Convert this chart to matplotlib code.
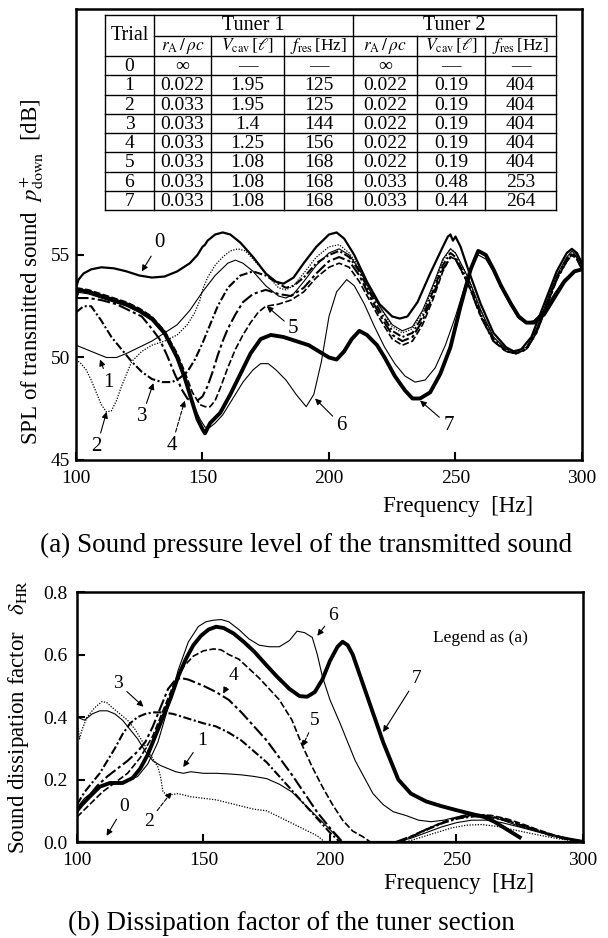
import numpy as np
import matplotlib
matplotlib.use("Agg")
import matplotlib.pyplot as plt

plt.rcParams['font.family'] = ['Liberation Serif', 'DejaVu Serif']
plt.rcParams['mathtext.fontset'] = 'stix'

# ---------------- (a) SPL of transmitted sound [dB] ----------------
f_spl0 = [100, 101, 103, 106, 110, 115, 120, 125, 130, 135, 140, 145, 148, 150, 151, 152, 155, 158, 161, 165,
          170, 175, 179, 182, 186, 190, 195, 200, 203, 206, 210, 215, 220, 225, 228, 231, 235, 240, 245, 247,
          248, 249, 250, 252, 255, 260, 265, 270, 273, 276, 280, 285, 290, 294, 296, 298, 300]
spl0 = [53.4, 53.8, 54.1, 54.3, 54.4, 54.35, 54.2, 54.0, 53.9, 53.95, 54.2, 54.6, 55.0, 55.4, 55.5, 55.7, 56.0, 56.1, 56.0, 55.6,
        54.9, 54.1, 53.7, 53.6, 53.9, 54.6, 55.4, 56.0, 56.1, 55.8, 55.0, 53.7, 52.6, 52.0, 51.9, 52.0, 52.7, 54.1, 55.4, 55.9,
        56.0, 55.7, 55.9, 55.4, 54.3, 52.6, 51.2, 50.5, 50.3, 50.4, 51.0, 52.6, 54.2, 55.1, 55.3, 55.1, 54.6]

f_spl1 = [100, 104, 108, 112, 116, 120, 125, 130, 135, 140, 145, 150, 155, 160, 163, 166, 170, 175, 180, 183,
          186, 190, 195, 200, 204, 208, 212, 216, 220, 225, 229, 233, 237, 241, 245, 248, 250, 255, 260, 265,
          270, 274, 278, 282, 286, 290, 294, 296, 298, 300]
spl1 = [50.6, 50.4, 50.2, 50.0, 50.0, 50.2, 50.5, 50.8, 51.2, 51.6, 52.3, 53.2, 54.0, 54.6, 54.75, 54.6, 54.2, 53.5, 53.0, 52.9,
        53.1, 53.7, 54.5, 55.1, 55.3, 55.0, 54.3, 53.3, 52.5, 51.6, 51.3, 51.5, 52.3, 53.5, 54.8, 55.3, 55.1, 53.9, 52.3, 51.0,
        50.4, 50.3, 50.5, 51.4, 52.7, 54.0, 54.9, 55.2, 55.0, 54.5]

f_spl2 = [100, 102, 104, 106, 108, 110, 112, 114, 116, 118, 120, 122, 126, 130, 135, 140, 144, 147, 149, 150,
          152, 155, 158, 161, 164, 167, 170, 175, 180, 183, 186, 190, 195, 200, 204, 208, 212, 216, 220, 225,
          229, 233, 237, 241, 245, 248, 250, 255, 260, 265, 270, 274, 278, 282, 286, 290, 294, 296, 298, 300]
spl2 = [49.9, 49.7, 49.4, 48.9, 48.3, 47.7, 47.35, 47.4, 47.9, 48.6, 49.2, 49.8, 50.3, 50.6, 50.8, 51.1, 51.6, 52.2, 52.8, 53.3,
        53.9, 54.5, 54.9, 55.2, 55.3, 55.2, 54.8, 54.1, 53.4, 53.3, 53.5, 54.1, 54.9, 55.4, 55.5, 55.1, 54.4, 53.4, 52.5, 51.5,
        51.2, 51.4, 52.2, 53.4, 54.7, 55.3, 55.1, 53.9, 52.3, 51.0, 50.4, 50.2, 50.4, 51.3, 52.6, 53.9, 54.8, 55.1, 54.9, 54.4]

f_spl3 = [100, 103, 106, 110, 114, 118, 122, 126, 130, 134, 138, 141, 144, 147, 150, 153, 156, 160, 165, 170,
          175, 180, 183, 186, 190, 195, 200, 204, 208, 212, 216, 220, 225, 229, 233, 237, 241, 245, 248, 250,
          255, 260, 265, 270, 274, 278, 282, 286, 290, 294, 296, 298, 300]
spl3 = [52.2, 52.5, 52.5, 51.8, 51.0, 50.4, 49.8, 49.3, 48.95, 48.8, 48.8, 49.0, 49.3, 49.9, 50.7, 51.6, 52.5, 53.4, 54.0, 54.2,
        54.0, 53.6, 53.4, 53.5, 53.9, 54.6, 55.0, 55.2, 54.9, 54.2, 53.2, 52.3, 51.3, 51.0, 51.2, 52.0, 53.2, 54.5, 55.1, 54.9,
        53.7, 52.1, 50.9, 50.3, 50.2, 50.4, 51.3, 52.6, 53.9, 54.8, 55.1, 54.9, 54.4]

f_spl4 = [100, 105, 110, 116, 121, 126, 130, 133, 136, 139, 142, 144, 146, 148, 150, 152, 154, 156, 158, 160,
          163, 166, 170, 175, 180, 185, 190, 195, 200, 204, 208, 212, 216, 220, 225, 229, 233, 237, 241, 245,
          248, 250, 255, 260, 265, 270, 274, 278, 282, 286, 290, 294, 296, 298, 300]
spl4 = [52.9, 52.9, 52.8, 52.6, 52.3, 52.0, 51.4, 50.9, 50.1, 49.2, 48.4, 48.0, 47.8, 47.9, 48.1, 48.6, 49.3, 50.1, 50.8, 51.4,
        52.1, 52.7, 53.1, 53.3, 53.1, 53.0, 53.4, 54.1, 54.7, 54.9, 54.7, 54.0, 53.0, 52.1, 51.1, 50.8, 51.0, 51.8, 53.0, 54.3,
        54.9, 54.8, 53.6, 52.0, 50.8, 50.3, 50.2, 50.4, 51.2, 52.5, 53.8, 54.7, 55.0, 54.8, 54.3]

f_spl5 = [100, 105, 110, 115, 120, 125, 130, 135, 140, 143, 146, 149, 151, 153, 155, 157, 160, 163, 166, 169,
          172, 175, 180, 185, 190, 195, 200, 204, 208, 212, 216, 220, 225, 229, 233, 237, 241, 245, 248, 250,
          255, 260, 265, 270, 274, 278, 282, 286, 290, 294, 296, 298, 300]
spl5 = [53.4, 53.3, 53.1, 52.9, 52.7, 52.4, 52.0, 51.3, 50.2, 49.3, 48.3, 47.7, 47.6, 47.6, 47.9, 48.5, 49.5, 50.4, 51.1, 51.7,
        52.2, 52.5, 52.6, 52.8, 53.2, 53.9, 54.4, 54.6, 54.4, 53.7, 52.8, 51.9, 50.9, 50.6, 50.8, 51.6, 52.8, 54.2, 54.9, 54.8,
        53.6, 52.0, 50.8, 50.3, 50.2, 50.4, 51.2, 52.5, 53.8, 54.7, 55.0, 54.8, 54.3]

f_spl6 = [100, 105, 110, 115, 120, 125, 130, 135, 140, 143, 146, 149, 151, 153, 155, 158, 162, 166, 170, 173,
          176, 179, 183, 187, 191, 194, 197, 200, 203, 207, 210, 214, 218, 222, 226, 230, 234, 238, 242, 246,
          250, 254, 257, 259, 262, 265, 268, 272, 275, 278, 281, 285, 289, 293, 297, 300]
spl6 = [53.2, 53.1, 52.9, 52.7, 52.5, 52.2, 51.8, 51.1, 49.9, 48.9, 47.8, 47.0, 46.6, 46.6, 46.8, 47.2, 48.0, 48.8, 49.4, 49.7,
        49.7, 49.4, 48.9, 48.2, 47.6, 48.2, 49.8, 52.0, 53.2, 53.8, 53.5, 52.6, 51.5, 50.5, 49.7, 49.1, 48.8, 48.9, 49.5, 50.6,
        52.0, 53.6, 54.6, 55.0, 54.8, 54.2, 53.4, 52.5, 51.9, 51.7, 51.8, 52.3, 53.1, 53.8, 54.2, 54.3]

f_spl7 = [100, 101, 105, 110, 115, 120, 125, 130, 135, 140, 143, 146, 148, 150, 151, 153, 157, 161, 165, 169,
          173, 177, 182, 187, 192, 196, 200, 203, 206, 209, 212, 215, 219, 222, 226, 230, 233, 236, 240, 244,
          248, 252, 256, 259, 262, 265, 268, 272, 275, 278, 281, 285, 289, 293, 297, 300]
spl7 = [53.0, 53.3, 53.2, 53.0, 52.8, 52.6, 52.3, 51.9, 51.2, 50.0, 49.0, 47.8, 47.0, 46.5, 46.3, 46.8, 47.3, 48.2, 49.2, 50.2,
        50.9, 51.1, 51.0, 50.8, 50.6, 50.3, 50.0, 49.9, 50.3, 50.9, 51.3, 51.1, 50.6, 50.0, 49.1, 48.4, 48.0, 48.0, 48.3, 49.2,
        50.5, 52.5, 54.3, 55.2, 55.0, 54.3, 53.5, 52.6, 52.0, 51.7, 51.7, 52.1, 52.9, 53.7, 54.2, 54.3]

# ---------------- (b) Sound dissipation factor ----------------
nan = np.nan
f_d0 = [100, 300]
d0 = [0.0, 0.0]

f_d1 = [100, 103, 106, 109, 112, 115, 118, 121, 124, 127, 130, 133, 136, 139, 142, 145, 150, 155, 160, 165,
        170, 175, 180, 185, 190, 195, 200, 203, 205, 215,
        226, 232, 238, 244, 250, 256, 262, 268, 274, 280, 286, 292, 298, 300]
d1 = [0.40, 0.39, 0.41, 0.42, 0.42, 0.41, 0.39, 0.36, 0.33, 0.29, 0.26, 0.245, 0.235, 0.225, 0.22, 0.225, 0.22, 0.22, 0.218, 0.215,
      0.21, 0.203, 0.185, 0.16, 0.12, 0.08, 0.04, 0.015, 0.0, nan,
      0.0, 0.012, 0.03, 0.048, 0.062, 0.07, 0.07, 0.062, 0.05, 0.037, 0.024, 0.012, 0.004, 0.0]

f_d2 = [100, 101, 102, 104, 107, 110, 112, 114, 117, 120, 123, 126, 129, 132, 133, 134, 136, 140, 145, 150,
        155, 160, 165, 170, 175, 180, 185, 190, 195, 198, 215,
        230, 236, 242, 248, 254, 260, 266, 272, 278, 284, 290, 296, 300]
d2 = [0.40, 0.33, 0.36, 0.40, 0.43, 0.45, 0.445, 0.43, 0.41, 0.39, 0.36, 0.32, 0.28, 0.24, 0.21, 0.16, 0.15, 0.155, 0.145, 0.14,
      0.135, 0.125, 0.115, 0.105, 0.10, 0.08, 0.06, 0.04, 0.02, 0.0, nan,
      0.0, 0.015, 0.03, 0.045, 0.054, 0.056, 0.05, 0.04, 0.03, 0.02, 0.011, 0.004, 0.0]

f_d3 = [100, 103, 106, 109, 112, 115, 118, 121, 124, 127, 130, 134, 138, 142, 146, 150, 155, 160, 165, 170,
        175, 180, 185, 190, 195, 200, 204, 215,
        227, 233, 239, 245, 251, 257, 263, 269, 275, 281, 287, 293, 299, 300]
d3 = [0.12, 0.16, 0.19, 0.22, 0.26, 0.30, 0.345, 0.38, 0.40, 0.41, 0.415, 0.415, 0.41, 0.40, 0.39, 0.38, 0.37, 0.35, 0.325, 0.29,
      0.255, 0.21, 0.165, 0.12, 0.075, 0.03, 0.0, nan,
      0.0, 0.02, 0.042, 0.062, 0.076, 0.082, 0.08, 0.07, 0.055, 0.038, 0.022, 0.01, 0.003, 0.0]

f_d4 = [100, 104, 108, 112, 116, 120, 124, 127, 130, 133, 136, 139, 141, 144, 147, 150, 155, 160, 165, 170,
        175, 180, 185, 190, 195, 200, 205, 215,
        226, 232, 238, 244, 250, 256, 262, 268, 274, 280, 286, 292, 298, 300]
d4 = [0.10, 0.14, 0.18, 0.21, 0.235, 0.26, 0.29, 0.32, 0.37, 0.43, 0.49, 0.52, 0.525, 0.52, 0.51, 0.50, 0.48, 0.455, 0.415, 0.37,
      0.325, 0.27, 0.215, 0.155, 0.095, 0.045, 0.0, nan,
      0.0, 0.018, 0.04, 0.06, 0.076, 0.085, 0.084, 0.075, 0.06, 0.043, 0.027, 0.013, 0.004, 0.0]

f_d5 = [100, 105, 110, 115, 120, 125, 130, 134, 138, 142, 146, 150, 154, 157, 160, 164, 168, 172, 176, 180,
        185, 189, 193, 197, 201, 205, 209, 213, 216, 222,
        228, 234, 240, 246, 252, 258, 264, 270, 276, 282, 288, 294, 300]
d5 = [0.08, 0.12, 0.16, 0.19, 0.22, 0.27, 0.34, 0.42, 0.50, 0.56, 0.595, 0.612, 0.618, 0.615, 0.60, 0.585, 0.555, 0.525, 0.49, 0.455,
      0.39, 0.31, 0.24, 0.177, 0.12, 0.07, 0.035, 0.017, 0.0, nan,
      0.0, 0.025, 0.048, 0.068, 0.082, 0.088, 0.085, 0.074, 0.058, 0.04, 0.024, 0.01, 0.002]

f_d6 = [100, 103, 106, 109, 112, 116, 120, 124, 128, 132, 136, 140, 144, 148, 151, 154, 157, 160, 164, 168,
        172, 176, 180, 184, 187, 190, 193, 195, 197, 200, 204, 207, 210, 214, 217, 221, 225, 230, 235, 240,
        245, 250, 255, 260, 265, 270, 275, 280, 285, 290, 295, 300]
d6 = [0.11, 0.14, 0.16, 0.18, 0.185, 0.19, 0.195, 0.21, 0.25, 0.32, 0.43, 0.55, 0.64, 0.69, 0.705, 0.71, 0.712, 0.705, 0.68, 0.65,
      0.63, 0.625, 0.625, 0.645, 0.675, 0.67, 0.655, 0.60, 0.53, 0.455, 0.38, 0.32, 0.26, 0.20, 0.155, 0.12, 0.097, 0.085, 0.07, 0.065,
      0.07, 0.08, 0.09, 0.088, 0.078, 0.065, 0.05, 0.04, 0.03, 0.02, 0.012, 0.005]

f_d7 = [100, 102, 105, 109, 113, 118, 122, 125, 128, 131, 134, 137, 140, 143, 146, 149, 152, 155, 158, 162,
        166, 170, 175, 179, 184, 188, 191, 194, 197, 200, 203, 205, 207, 209, 212, 215, 218, 221, 224, 227,
        232, 238, 244, 250, 256, 261, 265, 269, 272, 275]
d7 = [0.10, 0.12, 0.145, 0.177, 0.189, 0.189, 0.205, 0.235, 0.28, 0.34, 0.40, 0.46, 0.53, 0.585, 0.63, 0.66, 0.68, 0.689, 0.685, 0.667,
      0.64, 0.61, 0.565, 0.53, 0.49, 0.467, 0.465, 0.48, 0.52, 0.58, 0.625, 0.641, 0.63, 0.60, 0.53, 0.46, 0.39, 0.32, 0.26, 0.20,
      0.155, 0.13, 0.115, 0.102, 0.09, 0.08, 0.065, 0.045, 0.03, 0.015]

# ---------------- table inside (a) ----------------
trials = ['0', '1', '2', '3', '4', '5', '6', '7']
t1_r = ['∞', '0.022', '0.033', '0.033', '0.033', '0.033', '0.033', '0.033']
t1_v = ['—', '1.95', '1.95', '1.4', '1.25', '1.08', '1.08', '1.08']
t1_f = ['—', '125', '125', '144', '156', '168', '168', '168']
t2_r = ['∞', '0.022', '0.022', '0.022', '0.022', '0.022', '0.033', '0.033']
t2_v = ['—', '0.19', '0.19', '0.19', '0.19', '0.19', '0.48', '0.44']
t2_f = ['—', '404', '404', '404', '404', '404', '253', '264']
sub_heads = [r'$r_{\rm A}\,/\,\rho c$', r'$V_{\rm cav}\,[\ell]$', r'$f_{\rm res}\,$[Hz]']

# line styles for trials 0..7
styles = [
    dict(lw=1.6, ls='-'),
    dict(lw=0.8, ls='-'),
    dict(lw=0.9, ls=(0, (1, 1.2))),
    dict(lw=1.5, ls=(0, (4, 1.2, 1, 1.2))),
    dict(lw=1.5, ls=(0, (6, 1.5, 1.5, 1.5))),
    dict(lw=1.2, ls=(0, (4, 1.5))),
    dict(lw=0.8, ls='-'),
    dict(lw=2.8, ls='-'),
]

fig = plt.figure(figsize=(6.08, 9.38), dpi=100)
ax1 = fig.add_axes([0.125, 0.5096, 0.8322, 0.4808])
ax2 = fig.add_axes([0.1266, 0.1023, 0.8322, 0.2665])

spl_f = [f_spl0, f_spl1, f_spl2, f_spl3, f_spl4, f_spl5, f_spl6, f_spl7]
spl_v = [spl0, spl1, spl2, spl3, spl4, spl5, spl6, spl7]
for i in range(8):
    ax1.plot(spl_f[i], spl_v[i], color='k', **styles[i])

d_f = [f_d0, f_d1, f_d2, f_d3, f_d4, f_d5, f_d6, f_d7]
d_v = [d0, d1, d2, d3, d4, d5, d6, d7]
for i in range(8):
    ax2.plot(d_f[i], d_v[i], color='k', **styles[i])

for ax in (ax1, ax2):
    ax.set_xlim(100, 300)
    ax.set_xticks([100, 150, 200, 250, 300])
    for s in ax.spines.values():
        s.set_linewidth(1.8)
    ax.tick_params(direction='in', length=6, width=1.5, labelsize=14, pad=7)
ax1.tick_params(axis='y', pad=4)

ax1.set_ylim(45, 67)
ax1.set_yticks([45, 50, 55])
ax2.set_ylim(0, 0.8)
ax2.set_yticks([0.0, 0.2, 0.4, 0.6, 0.8])
ax2.set_yticklabels(['0.0', '0.2', '0.4', '0.6', '0.8'])

ax1.set_xlabel('Frequency  [Hz]', fontsize=16.5)
ax1.xaxis.set_label_coords(0.755, -0.08)
ax2.set_xlabel('Frequency  [Hz]', fontsize=16.5)
ax2.xaxis.set_label_coords(0.755, -0.125)
ax1.set_ylabel(r'SPL of transmitted sound  $p^{+}_{\rm down}$  [dB]', fontsize=16.5, va='center')
ax1.yaxis.set_label_coords(-0.088, 0.417)
ax2.set_ylabel(r'Sound dissipation factor   $\delta_{\rm HR}$', fontsize=16.5, va='center')
ax2.yaxis.set_label_coords(-0.115, 0.5)

# curve labels with arrows
arrow_kw = dict(arrowstyle='-|>', color='k', lw=0.8, mutation_scale=9, shrinkA=1, shrinkB=0)
lab_a = [('0', (133, 55.6), (126, 54.2), '-'), ('1', (112.8, 48.8), (109.5, 49.9), '-'),
         ('2', (108.2, 45.65), (112.1, 47.35), '-'), ('3', (126, 47.1), (130.6, 48.75), '-'),
         ('4', (137.8, 45.7), (143, 47.9), '--'), ('5', (185.9, 51.4), (175.4, 52.5), '-'),
         ('6', (205, 46.7), (194.5, 48.0), '-'), ('7', (247.2, 46.7), (236, 47.9), '-')]
for lab, txt, head, ls in lab_a:
    ax1.annotate(lab, xy=head, xytext=txt, fontsize=15, ha='center', va='center',
                 arrowprops=dict(arrow_kw, linestyle=ls))

lab_b = [('0', (118.6, 0.113), (111.7, 0.02), '-'), ('1', (149.3, 0.326), (142, 0.24), '-'),
         ('2', (128.3, 0.065), (137.4, 0.16), '--'), ('3', (116.3, 0.507), (126.3, 0.433), '-'),
         ('4', (161.7, 0.534), (157.8, 0.475), '-'), ('5', (194, 0.39), (189, 0.305), '--'),
         ('6', (201.3, 0.726), (195, 0.66), '-'), ('7', (234.3, 0.523), (221, 0.352), '-')]
for lab, txt, head, ls in lab_b:
    ax2.annotate(lab, xy=head, xytext=txt, fontsize=14, ha='center', va='center',
                 arrowprops=dict(arrow_kw, linestyle=ls))

ax2.text(240.7, 0.653, 'Legend as (a)', fontsize=12.5, ha='left', va='center')


# table drawn in pixel positions of the top panel
def px(x, y):
    return (x - 76) / 506.0, (460 - y) / 451.0


def hline(x0, x1, y, lw=1.0):
    a, b = px(x0, y)
    c, _ = px(x1, y)
    ax1.plot([a, c], [b, b], color='k', lw=lw, transform=ax1.transAxes, clip_on=False)


def vline(x, y0, y1, lw=1.0):
    a, b = px(x, y0)
    _, d = px(x, y1)
    ax1.plot([a, a], [b, d], color='k', lw=lw, transform=ax1.transAxes, clip_on=False)


def cell(s, x, y, size=14):
    a, b = px(x, y)
    ax1.text(a, b, s, transform=ax1.transAxes, ha='center', va='center', fontsize=size)


cols = [105, 154, 211, 284, 353, 417, 485, 556]
rows = [15, 36, 56] + [56 + 19.25 * (i + 1) for i in range(8)]

hline(cols[0], cols[-1], rows[0])
hline(cols[1], cols[-1], rows[1])
for r in rows[2:]:
    hline(cols[0], cols[-1], r)
vline(cols[0], rows[0], rows[-1])
vline(cols[1], rows[0], rows[-1])
vline(cols[4], rows[0], rows[-1])
vline(cols[-1], rows[0], rows[-1])
for c in (cols[2], cols[3], cols[5], cols[6]):
    vline(c, rows[1], rows[-1])

cell('Trial', (cols[0] + cols[1]) / 2, (rows[0] + rows[2]) / 2, 14.5)
cell('Tuner 1', (cols[1] + cols[4]) / 2, (rows[0] + rows[1]) / 2, 14.5)
cell('Tuner 2', (cols[4] + cols[7]) / 2, (rows[0] + rows[1]) / 2, 14.5)
for k in range(6):
    cell(sub_heads[k % 3], (cols[k + 1] + cols[k + 2]) / 2, (rows[1] + rows[2]) / 2, 12.5)

table_cols = [trials, t1_r, t1_v, t1_f, t2_r, t2_v, t2_f]
for j, col in enumerate(table_cols):
    for i, s in enumerate(col):
        cell(s, (cols[j] + cols[j + 1]) / 2, (rows[i + 2] + rows[i + 3]) / 2 + 1, 14)

fig.text(306 / 608, 1 - 545 / 938, '(a) Sound pressure level of the transmitted sound',
         ha='center', va='center', fontsize=19.5)
fig.text(291 / 608, 1 - 923 / 938, '(b) Dissipation factor of the tuner section',
         ha='center', va='center', fontsize=19.5)

fig.savefig('out.png', dpi=100)
